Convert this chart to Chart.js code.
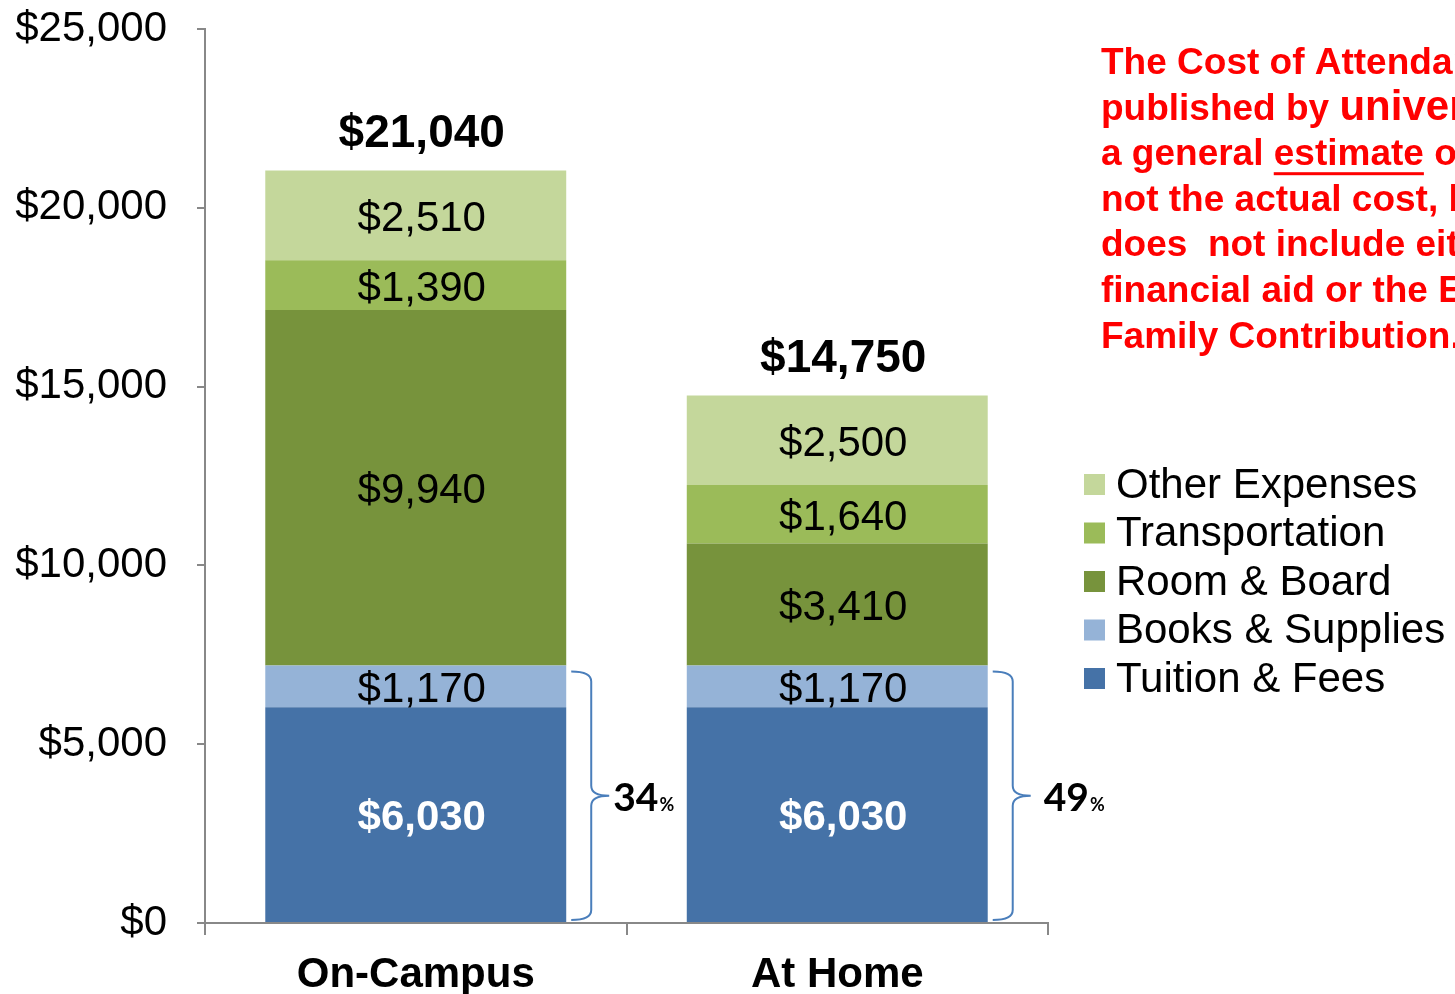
<!DOCTYPE html>
<html>
<head>
<meta charset="utf-8">
<script src="https://cdn.jsdelivr.net/npm/chart.js@4"></script>
<style>
  body { margin: 0; background: #fff; }
  canvas { display: block; }
</style>
</head>
<body>
<canvas id="costChart" width="1455" height="994"></canvas>
<script>
// Datos del gráfico
const categories = ['On-Campus', 'At Home'];
const seriesNames = ['Tuition & Fees', 'Books & Supplies', 'Room & Board', 'Transportation', 'Other Expenses'];
const tuition = [6030, 6030];
const books = [1170, 1170];
const room = [9940, 3410];
const transport = [1390, 1640];
const other = [2510, 2500];
const yTickStep = 5000;
const yMax = 25000;

const noteLines = [
  ['The Cost of Attendance (COA)'],
  ['published by ', 'universities is'],
  ['a general ', 'estimate', ' of costs,'],
  ['not the actual cost, but'],
  ['does  not include either'],
  ['financial aid or the Expected'],
  ['Family Contribution.']
];

const colors = ['#4572A7', '#95B3D7', '#77933C', '#9BBB59', '#C4D79B'];
const FONT = "'Liberation Sans', Arial, sans-serif";

const values = [tuition, books, room, transport, other];

// Etiquetas, totales, llaves, leyenda y nota
const overlay = {
  id: 'overlay',
  afterDatasetsDraw(chart) {
    const ctx = chart.ctx;
    const y = chart.scales.y;
    ctx.save();
    ctx.textAlign = 'center';
    ctx.textBaseline = 'middle';

    // valores dentro de cada segmento
    chart.data.datasets.forEach((ds, i) => {
      chart.getDatasetMeta(i).data.forEach((bar, j) => {
        const cy = (bar.y + bar.base) / 2;
        if (i === 0) {
          ctx.fillStyle = '#fff';
          ctx.font = 'bold 42px ' + FONT;
        } else {
          ctx.fillStyle = '#000';
          ctx.font = '42px ' + FONT;
        }
        ctx.fillText('$' + ds.data[j].toLocaleString('en-US'), bar.x + 6, cy + 4);
      });
    });

    // totales y llaves
    const meta0 = chart.getDatasetMeta(0);
    const pctGap = [4, 13];
    categories.forEach((c, j) => {
      const total = values.reduce((s, arr) => s + arr[j], 0);
      const bar = meta0.data[j];
      const topPx = y.getPixelForValue(total);
      ctx.fillStyle = '#000';
      ctx.font = 'bold 46px ' + FONT;
      ctx.fillText('$' + total.toLocaleString('en-US'), bar.x + 6, topPx - 36);

      const fixed = tuition[j] + books[j];
      const top = y.getPixelForValue(fixed) + 6;
      const bot = y.getPixelForValue(0) - 3;
      const mid = (top + bot) / 2;
      const x0 = bar.x + bar.width / 2 + 5;
      const x1 = x0 + 20;
      const tip = x0 + 38;
      const r = 10;
      ctx.beginPath();
      ctx.moveTo(x0, top);
      ctx.quadraticCurveTo(x1, top, x1, top + r);
      ctx.lineTo(x1, mid - r);
      ctx.quadraticCurveTo(x1, mid, tip, mid);
      ctx.moveTo(tip, mid);
      ctx.quadraticCurveTo(x1, mid, x1, mid + r);
      ctx.lineTo(x1, bot - r);
      ctx.quadraticCurveTo(x1, bot, x0, bot);
      ctx.strokeStyle = '#4A7EBB';
      ctx.lineWidth = 2;
      ctx.stroke();

      const pct = Math.round(fixed / total * 100);
      ctx.textAlign = 'left';
      ctx.textBaseline = 'alphabetic';
      ctx.font = 'bold 39px Lato, ' + FONT;
      ctx.fillText(String(pct), tip + pctGap[j], mid + 15);
      const w = ctx.measureText(String(pct)).width;
      ctx.font = 'bold 18px Lato, ' + FONT;
      ctx.fillText('%', tip + pctGap[j] + w + 1, mid + 15);
      ctx.textAlign = 'center';
      ctx.textBaseline = 'middle';
    });

    // leyenda (orden inverso)
    ctx.textAlign = 'left';
    ctx.font = '42px ' + FONT;
    for (let k = 0; k < seriesNames.length; k++) {
      const idx = seriesNames.length - 1 - k;
      const cy = 484 + k * 48.5;
      ctx.fillStyle = colors[idx];
      ctx.fillRect(1084, cy - 10, 21, 21);
      ctx.fillStyle = '#000';
      ctx.fillText(seriesNames[idx], 1116, cy + 2);
    }

    // nota en rojo
    ctx.textBaseline = 'alphabetic';
    ctx.fillStyle = '#FF0000';
    noteLines.forEach((parts, li) => {
      let x = 1101;
      const base = 74 + li * 45.6;
      parts.forEach(p => {
        ctx.font = (p === 'universities is' ? 'bold 42px ' : 'bold 37px ') + FONT;
        ctx.fillText(p, x, base);
        const w = ctx.measureText(p).width;
        if (p === 'estimate') {
          ctx.fillRect(x, base + 7, w, 3);
        }
        x += w;
      });
    });
    ctx.restore();
  }
};

const ctx = document.getElementById('costChart').getContext('2d');
new Chart(ctx, {
  type: 'bar',
  data: {
    labels: categories,
    datasets: seriesNames.map((name, i) => ({
      label: name,
      data: values[i],
      backgroundColor: colors[i],
      borderWidth: 0,
      categoryPercentage: 1,
      barPercentage: 0.714
    }))
  },
  options: {
    responsive: false,
    animation: false,
    layout: { padding: { left: 0, right: 407, top: 29, bottom: 0 } },
    plugins: { legend: { display: false }, tooltip: { enabled: false } },
    scales: {
      x: {
        stacked: true,
        afterFit: s => { s.height = 71; },
        grid: { drawOnChartArea: false, tickLength: 12, color: '#888', lineWidth: 2 },
        border: { color: '#888', width: 2 },
        ticks: { color: '#000', font: { family: FONT, size: 42, weight: 'bold' }, padding: 15 }
      },
      y: {
        stacked: true,
        min: 0,
        max: yMax,
        afterFit: s => { s.width = 205; s.paddingTop = 0; s.paddingBottom = 0; },
        grid: { drawOnChartArea: false, tickLength: 8, color: '#888', lineWidth: 2 },
        border: { color: '#888', width: 2 },
        ticks: {
          stepSize: yTickStep,
          color: '#000',
          padding: 30,
          font: { family: FONT, size: 42 },
          callback: v => '$' + v.toLocaleString('en-US')
        }
      }
    }
  },
  plugins: [overlay]
});
</script>
</body>
</html>
